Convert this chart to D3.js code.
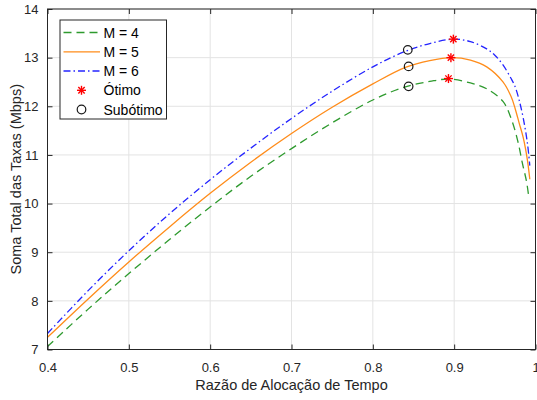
<!DOCTYPE html>
<html><head><meta charset="utf-8">
<script src="https://cdn.jsdelivr.net/npm/d3@7"></script>
<style>body{margin:0;background:#fff}svg{display:block;font-family:"Liberation Sans",Arial,sans-serif}</style>
</head><body><svg id="c" width="537" height="400"></svg>
<script>
const xTicks = [0.4,0.5,0.6,0.7,0.8,0.9,1];
const yTicks = [7,8,9,10,11,12,13,14];
const seriesNames = ["M = 4","M = 5","M = 6"];
const xM4 = [0.40,0.45,0.50,0.55,0.60,0.65,0.70,0.75,0.80,0.84,0.87,0.893,0.92,0.94,0.96,0.97,0.978,0.984,0.989,0.992];
const yM4 = [7.06,7.83,8.56,9.26,9.93,10.56,11.13,11.66,12.13,12.40,12.51,12.56,12.48,12.36,12.10,11.75,11.30,10.82,10.45,10.10];
const xM5 = [0.40,0.45,0.50,0.55,0.60,0.65,0.70,0.75,0.80,0.84,0.87,0.897,0.92,0.94,0.96,0.97,0.975,0.98,0.985,0.99,0.993];
const yM5 = [7.25,8.04,8.80,9.52,10.21,10.85,11.44,11.98,12.46,12.80,12.94,13.00,12.95,12.81,12.50,12.20,11.95,11.65,11.35,10.90,10.50];
const xM6 = [0.40,0.45,0.50,0.55,0.60,0.65,0.70,0.75,0.80,0.84,0.87,0.899,0.92,0.94,0.95,0.96,0.97,0.975,0.98,0.985,0.99,0.993];
const yM6 = [7.33,8.21,9.03,9.79,10.49,11.14,11.75,12.31,12.81,13.13,13.29,13.38,13.33,13.18,13.05,12.85,12.57,12.40,12.12,11.75,11.25,10.78];
const optX = [0.893,0.896,0.899];
const optY = [12.57,13.00,13.38];
const subX = [0.844,0.844,0.843];
const subY = [12.41,12.82,13.16];

const colors = ["#2e9a2e","#ff8c1a","#2424ff"];
const dashes = ["8,5",null,"7,3,1.5,3"];

const svg = d3.select("#c");
const L=47.5, R=535.5, T=9, B=349.5;
const x = d3.scaleLinear().domain([0.4,1]).range([L,R]);
const y = d3.scaleLinear().domain([7,14]).range([B,T]);
const axisCol = "#262626";

// grid
svg.append("g").selectAll("line.gx").data(xTicks).join("line")
  .attr("x1",d=>x(d)).attr("x2",d=>x(d)).attr("y1",T).attr("y2",B)
  .attr("stroke","#e3e3e3").attr("stroke-width",1);
svg.append("g").selectAll("line.gy").data(yTicks).join("line")
  .attr("y1",d=>y(d)).attr("y2",d=>y(d)).attr("x1",L).attr("x2",R)
  .attr("stroke","#e3e3e3").attr("stroke-width",1);

// curves
const xs=[xM4,xM5,xM6], ys=[yM4,yM5,yM6];
const line = d3.line().x(d=>x(d[0])).y(d=>y(d[1])).curve(d3.curveCatmullRom.alpha(0.5));
for(let i=0;i<3;i++){
  const pts = xs[i].map((v,j)=>[v,ys[i][j]]);
  svg.append("path").attr("d",line(pts)).attr("fill","none")
    .attr("stroke",colors[i]).attr("stroke-width",1.3)
    .attr("stroke-dasharray",dashes[i]);
}

// markers
function star(g,cx,cy){
  const r=4.5;
  for(let k=0;k<4;k++){
    const a=k*Math.PI/4;
    g.append("line").attr("x1",cx-r*Math.cos(a)).attr("y1",cy-r*Math.sin(a))
     .attr("x2",cx+r*Math.cos(a)).attr("y2",cy+r*Math.sin(a))
     .attr("stroke","#ff0000").attr("stroke-width",1.4);
  }
}
const mg = svg.append("g");
optX.forEach((v,i)=>star(mg,x(v),y(optY[i])));
svg.append("g").selectAll("circle").data(subX.map((v,i)=>[v,subY[i]])).join("circle")
  .attr("cx",d=>x(d[0])).attr("cy",d=>y(d[1])).attr("r",4.3)
  .attr("fill","none").attr("stroke","#1a1a1a").attr("stroke-width",1.2);

// axes box
svg.append("rect").attr("x",L).attr("y",T).attr("width",R-L).attr("height",B-T)
  .attr("fill","none").attr("stroke",axisCol).attr("stroke-width",1);

const xb = svg.append("g").attr("transform",`translate(0,${B})`)
  .call(d3.axisBottom(x).tickValues(xTicks).tickSizeInner(-5).tickSizeOuter(0).tickPadding(13).tickFormat(d3.format("")));
const xt = svg.append("g").attr("transform",`translate(0,${T})`)
  .call(d3.axisTop(x).tickValues(xTicks).tickSizeInner(-5).tickSizeOuter(0).tickFormat(""));
const yl = svg.append("g").attr("transform",`translate(${L},0)`)
  .call(d3.axisLeft(y).tickValues(yTicks).tickSizeInner(-5).tickSizeOuter(0).tickPadding(9).tickFormat(d3.format("")));
const yr = svg.append("g").attr("transform",`translate(${R},0)`)
  .call(d3.axisRight(y).tickValues(yTicks).tickSizeInner(-5).tickSizeOuter(0).tickFormat(""));
[xb,xt,yl,yr].forEach(g=>{
  g.select(".domain").remove();
  g.selectAll("line").attr("stroke",axisCol);
  g.selectAll("text").attr("fill",axisCol).style("font-size","13px").style("font-family","'Liberation Sans',Arial,sans-serif");
});

// axis labels
svg.append("text").attr("x",(L+R)/2).attr("y",390).attr("text-anchor","middle")
  .attr("fill",axisCol).style("font-size","14.5px").text("Razão de Alocação de Tempo");
svg.append("text").attr("transform",`translate(21,${(T+B)/2}) rotate(-90)`).attr("text-anchor","middle")
  .attr("fill",axisCol).style("font-size","14.5px").text("Soma Total das Taxas (Mbps)");

// legend
const lg = svg.append("g");
lg.append("rect").attr("x",60).attr("y",20).attr("width",106.5).attr("height",99)
  .attr("fill","#fff").attr("stroke","#262626").attr("stroke-width",1);
const rowsY=[32.5,51.8,71,90.3,109.5];
for(let i=0;i<3;i++){
  lg.append("line").attr("x1",63.5).attr("x2",100).attr("y1",rowsY[i]).attr("y2",rowsY[i])
    .attr("stroke",colors[i]).attr("stroke-width",1.3).attr("stroke-dasharray",dashes[i]);
  lg.append("text").attr("x",103.5).attr("y",rowsY[i]+5).style("font-size","14px").attr("fill","#000").text(seriesNames[i]);
}
star(lg,81.5,rowsY[3]);
lg.append("circle").attr("cx",81.5).attr("cy",rowsY[4]).attr("r",4.3).attr("fill","none").attr("stroke","#1a1a1a").attr("stroke-width",1.2);
lg.append("text").attr("x",103.5).attr("y",rowsY[3]+5).style("font-size","14px").attr("fill","#000").text("Ótimo");
lg.append("text").attr("x",103.5).attr("y",rowsY[4]+5).style("font-size","14px").attr("fill","#000").text("Subótimo");
</script></body></html>
